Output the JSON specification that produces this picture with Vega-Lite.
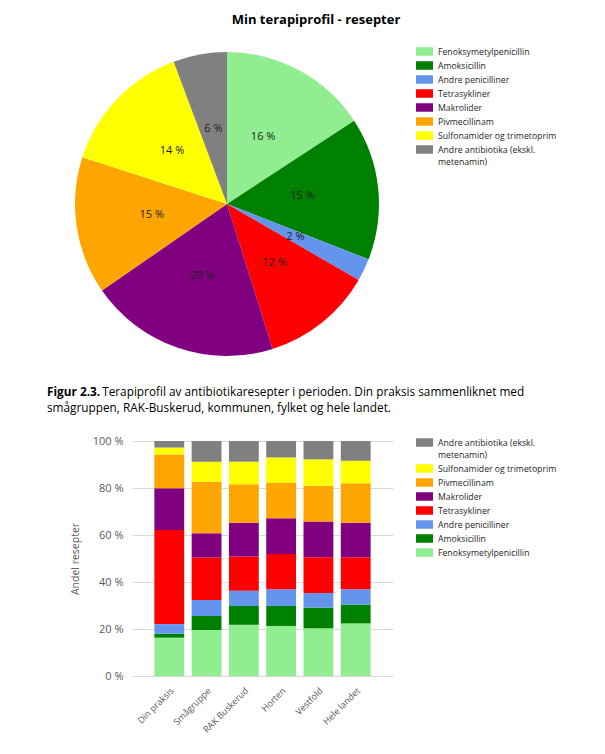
{
  "$schema": "https://vega.github.io/schema/vega-lite/v6.json",
  "background": "white",
  "padding": {"left": 47, "top": 14, "right": 5, "bottom": 5},
  "config": {
    "font": "Open Sans",
    "view": {"stroke": null},
    "legend": {
      "symbolType": "M-1,-0.5H1V0.5H-1Z",
      "symbolSize": 289,
      "symbolStrokeWidth": 0,
      "labelFontSize": 8.7,
      "labelColor": "#262626",
      "labelOffset": 5,
      "rowPadding": 0,
      "labelLimit": 200,
      "title": null
    }
  },
  "datasets": {
    "pie": [
      {"type": "Fenoksymetylpenicillin", "idx": 0, "andel": 15.75},
      {"type": "Amoksicillin", "idx": 1, "andel": 15.15},
      {"type": "Andre penicilliner", "idx": 2, "andel": 2.4},
      {"type": "Tetrasykliner", "idx": 3, "andel": 11.8},
      {"type": "Makrolider", "idx": 4, "andel": 20.2},
      {"type": "Pivmecillinam", "idx": 5, "andel": 14.6},
      {"type": "Sulfonamider og trimetoprim", "idx": 6, "andel": 14.3},
      {"type": "Andre antibiotika (ekskl. metenamin)", "idx": 7, "andel": 5.7}
    ],
    "bars": [
      {"gruppe": "Din praksis", "type": "Fenoksymetylpenicillin", "idx": 0, "andel": 16.3},
      {"gruppe": "Din praksis", "type": "Amoksicillin", "idx": 1, "andel": 1.7},
      {"gruppe": "Din praksis", "type": "Andre penicilliner", "idx": 2, "andel": 4.1},
      {"gruppe": "Din praksis", "type": "Tetrasykliner", "idx": 3, "andel": 40.0},
      {"gruppe": "Din praksis", "type": "Makrolider", "idx": 4, "andel": 17.8},
      {"gruppe": "Din praksis", "type": "Pivmecillinam", "idx": 5, "andel": 14.4},
      {"gruppe": "Din praksis", "type": "Sulfonamider og trimetoprim", "idx": 6, "andel": 2.9},
      {"gruppe": "Din praksis", "type": "Andre antibiotika (ekskl. metenamin)", "idx": 7, "andel": 2.8},
      {"gruppe": "Smågruppe", "type": "Fenoksymetylpenicillin", "idx": 0, "andel": 19.6},
      {"gruppe": "Smågruppe", "type": "Amoksicillin", "idx": 1, "andel": 5.9},
      {"gruppe": "Smågruppe", "type": "Andre penicilliner", "idx": 2, "andel": 6.8},
      {"gruppe": "Smågruppe", "type": "Tetrasykliner", "idx": 3, "andel": 18.1},
      {"gruppe": "Smågruppe", "type": "Makrolider", "idx": 4, "andel": 10.3},
      {"gruppe": "Smågruppe", "type": "Pivmecillinam", "idx": 5, "andel": 22.0},
      {"gruppe": "Smågruppe", "type": "Sulfonamider og trimetoprim", "idx": 6, "andel": 8.5},
      {"gruppe": "Smågruppe", "type": "Andre antibiotika (ekskl. metenamin)", "idx": 7, "andel": 8.8},
      {"gruppe": "RAK Buskerud", "type": "Fenoksymetylpenicillin", "idx": 0, "andel": 21.8},
      {"gruppe": "RAK Buskerud", "type": "Amoksicillin", "idx": 1, "andel": 8.0},
      {"gruppe": "RAK Buskerud", "type": "Andre penicilliner", "idx": 2, "andel": 6.5},
      {"gruppe": "RAK Buskerud", "type": "Tetrasykliner", "idx": 3, "andel": 14.5},
      {"gruppe": "RAK Buskerud", "type": "Makrolider", "idx": 4, "andel": 14.4},
      {"gruppe": "RAK Buskerud", "type": "Pivmecillinam", "idx": 5, "andel": 16.4},
      {"gruppe": "RAK Buskerud", "type": "Sulfonamider og trimetoprim", "idx": 6, "andel": 9.6},
      {"gruppe": "RAK Buskerud", "type": "Andre antibiotika (ekskl. metenamin)", "idx": 7, "andel": 8.8},
      {"gruppe": "Horten", "type": "Fenoksymetylpenicillin", "idx": 0, "andel": 21.3},
      {"gruppe": "Horten", "type": "Amoksicillin", "idx": 1, "andel": 8.5},
      {"gruppe": "Horten", "type": "Andre penicilliner", "idx": 2, "andel": 7.1},
      {"gruppe": "Horten", "type": "Tetrasykliner", "idx": 3, "andel": 15.0},
      {"gruppe": "Horten", "type": "Makrolider", "idx": 4, "andel": 15.2},
      {"gruppe": "Horten", "type": "Pivmecillinam", "idx": 5, "andel": 15.2},
      {"gruppe": "Horten", "type": "Sulfonamider og trimetoprim", "idx": 6, "andel": 10.7},
      {"gruppe": "Horten", "type": "Andre antibiotika (ekskl. metenamin)", "idx": 7, "andel": 7.0},
      {"gruppe": "Vestfold", "type": "Fenoksymetylpenicillin", "idx": 0, "andel": 20.3},
      {"gruppe": "Vestfold", "type": "Amoksicillin", "idx": 1, "andel": 8.8},
      {"gruppe": "Vestfold", "type": "Andre penicilliner", "idx": 2, "andel": 6.2},
      {"gruppe": "Vestfold", "type": "Tetrasykliner", "idx": 3, "andel": 15.2},
      {"gruppe": "Vestfold", "type": "Makrolider", "idx": 4, "andel": 15.2},
      {"gruppe": "Vestfold", "type": "Pivmecillinam", "idx": 5, "andel": 15.2},
      {"gruppe": "Vestfold", "type": "Sulfonamider og trimetoprim", "idx": 6, "andel": 11.3},
      {"gruppe": "Vestfold", "type": "Andre antibiotika (ekskl. metenamin)", "idx": 7, "andel": 7.8},
      {"gruppe": "Hele landet", "type": "Fenoksymetylpenicillin", "idx": 0, "andel": 22.4},
      {"gruppe": "Hele landet", "type": "Amoksicillin", "idx": 1, "andel": 8.0},
      {"gruppe": "Hele landet", "type": "Andre penicilliner", "idx": 2, "andel": 6.5},
      {"gruppe": "Hele landet", "type": "Tetrasykliner", "idx": 3, "andel": 13.6},
      {"gruppe": "Hele landet", "type": "Makrolider", "idx": 4, "andel": 14.7},
      {"gruppe": "Hele landet", "type": "Pivmecillinam", "idx": 5, "andel": 16.8},
      {"gruppe": "Hele landet", "type": "Sulfonamider og trimetoprim", "idx": 6, "andel": 9.6},
      {"gruppe": "Hele landet", "type": "Andre antibiotika (ekskl. metenamin)", "idx": 7, "andel": 8.4}
    ]
  },
  "spacing": 31,
  "resolve": {"scale": {"color": "independent"}},
  "vconcat": [
    {
      "title": {"text": "Min terapiprofil - resepter", "frame": "bounds", "anchor": "middle", "fontSize": 13, "fontWeight": "bold", "color": "#000000", "offset": 16},
      "width": 190,
      "height": 304,
      "data": {"name": "pie"},
      "transform": [{"calculate": "format(datum.andel, '.0f') + ' %'", "as": "etikett"}],
      "encoding": {
        "theta": {"field": "andel", "type": "quantitative", "stack": true},
        "order": {"field": "idx", "type": "quantitative"}
      },
      "layer": [
        {
          "mark": {"type": "arc", "outerRadius": 152},
          "encoding": {
            "color": {
              "field": "type", "type": "nominal",
              "scale": {
                "domain": ["Fenoksymetylpenicillin", "Amoksicillin", "Andre penicilliner", "Tetrasykliner", "Makrolider", "Pivmecillinam", "Sulfonamider og trimetoprim", "Andre antibiotika (ekskl. metenamin)"],
                "range": ["#90EE90", "#008000", "#6495ED", "#FF0000", "#800080", "#FFA500", "#FFFF00", "#808080"]
              },
              "legend": {
                "orient": "none", "legendX": 284, "legendY": -9,
                "labelExpr": "datum.label == 'Andre antibiotika (ekskl. metenamin)' ? ['Andre antibiotika (ekskl.', 'metenamin)'] : datum.label",
                "encode": {"labels": {"update": {"lineHeight": {"value": 12.5}}}}
              }
            }
          }
        },
        {
          "mark": {"type": "text", "radius": 76, "fontSize": 11, "color": "#222222"},
          "encoding": {
            "detail": {"field": "type", "type": "nominal"},
            "text": {"field": "etikett", "type": "nominal"}
          }
        }
      ]
    },
    {
      "title": {
        "text": "Figur 2.3.",
        "fontSize": 11.8, "fontWeight": "bold", "color": "#000000",
        "anchor": "start", "frame": "group", "dx": -85, "offset": 19,
        "subtitle": ["\u200b\u00a0\u00a0\u00a0\u00a0\u00a0\u00a0\u00a0\u00a0\u00a0\u00a0\u00a0\u00a0\u00a0\u00a0\u00a0\u00a0\u00a0\u00a0Terapiprofil av antibiotikaresepter i perioden. Din praksis sammenliknet med", "smågruppen, RAK-Buskerud, kommunen, fylket og hele landet."],
        "subtitleFontSize": 11.8, "subtitleColor": "#000000", "subtitlePadding": -11.8, "subtitleLineHeight": 16, "subtitleFont": "Open Sans"
      },
      "width": 261,
      "height": 235,
      "data": {"name": "bars"},
      "mark": {"type": "bar"},
      "encoding": {
        "x": {
          "field": "gruppe", "type": "nominal",
          "sort": ["Din praksis", "Smågruppe", "RAK Buskerud", "Horten", "Vestfold", "Hele landet"],
          "scale": {"paddingInner": 0.2, "paddingOuter": 0.6},
          "axis": {"title": null, "labelAngle": -45, "ticks": false, "domain": false, "labelFontSize": 9, "labelColor": "#595959", "labelPadding": 10}
        },
        "y": {
          "field": "andel", "type": "quantitative", "stack": "zero",
          "scale": {"domain": [0, 100]},
          "axis": {"title": "Andel resepter", "values": [0, 20, 40, 60, 80, 100], "labelExpr": "datum.value + ' %'", "domain": false, "ticks": false, "gridColor": "#d9d9d9", "labelColor": "#595959", "labelFontSize": 11, "labelPadding": 9, "titleFontSize": 10.5, "titleFontWeight": "normal", "titleColor": "#595959", "titlePadding": 12}
        },
        "order": {"field": "idx", "type": "quantitative"},
        "color": {
          "field": "type", "type": "nominal",
          "scale": {
            "domain": ["Andre antibiotika (ekskl. metenamin)", "Sulfonamider og trimetoprim", "Pivmecillinam", "Makrolider", "Tetrasykliner", "Andre penicilliner", "Amoksicillin", "Fenoksymetylpenicillin"],
            "range": ["#808080", "#FFFF00", "#FFA500", "#800080", "#FF0000", "#6495ED", "#008000", "#90EE90"]
          },
          "legend": {
            "orient": "none", "legendX": 284, "legendY": -7,
            "labelExpr": "datum.label == 'Andre antibiotika (ekskl. metenamin)' ? ['Andre antibiotika (ekskl.', 'metenamin)'] : datum.label",
            "encode": {"labels": {"update": {"lineHeight": {"value": 12.5}}}}
          }
        }
      }
    }
  ]
}
